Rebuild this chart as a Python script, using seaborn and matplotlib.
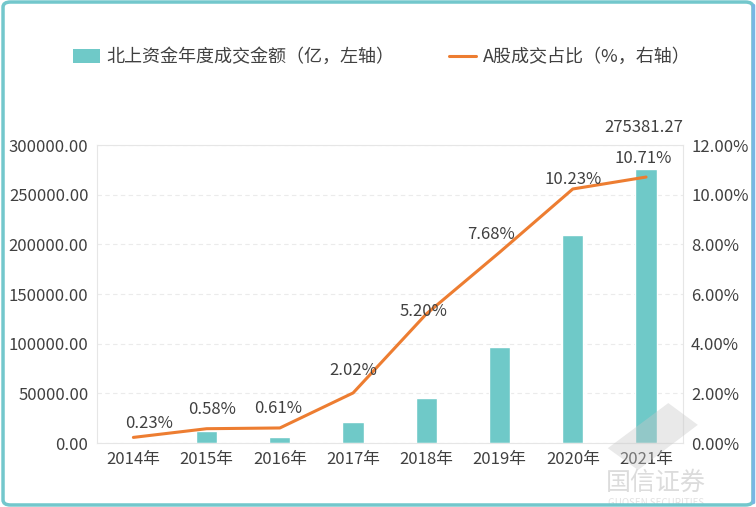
import numpy as np
import pandas as pd
import matplotlib.pyplot as plt
import seaborn as sns
from matplotlib.patches import Patch, FancyBboxPatch, Polygon
from matplotlib.lines import Line2D
from matplotlib.ticker import FuncFormatter

# data
years = ['2014年', '2015年', '2016年', '2017年', '2018年', '2019年', '2020年', '2021年']
turnover = [1500, 12500, 6500, 21500, 45500, 96500, 209500, 275381.27]
share_pct = [0.23, 0.58, 0.61, 2.02, 5.20, 7.68, 10.23, 10.71]

bar_label = '北上资金年度成交金额（亿，左轴）'
line_label = 'A股成交占比（%，右轴）'

df = pd.DataFrame({'year': years, 'turnover': turnover, 'share': share_pct})

sns.set_style('white')
plt.rcParams['font.family'] = ['Noto Sans CJK SC', 'DejaVu Sans']

teal = '#6fc9c8'
orange = '#ed7d31'
txt = '#404040'

fig = plt.figure(figsize=(7.56, 5.07), dpi=100)
ax = fig.add_axes([0.128, 0.126, 0.775, 0.588])

sns.barplot(data=df, x='year', y='turnover', color=teal, width=0.29,
            saturation=1, ax=ax, zorder=2)
ax.set_ylim(0, 300000)
ax.set_yticks(np.arange(0, 300001, 50000))
ax.yaxis.set_major_formatter(FuncFormatter(lambda v, p: f'{v:.2f}'))
ax.grid(axis='y', color='#ebebeb', linestyle=(0, (4, 3)), linewidth=0.8, zorder=0)
ax.set_xlabel('')
ax.set_ylabel('')
for s in ax.spines.values():
    s.set_color('#e6e6e6')
    s.set_linewidth(0.8)
ax.tick_params(axis='both', length=0, labelsize=12, colors=txt, pad=6)

ax2 = ax.twinx()
sns.lineplot(x=np.arange(len(years)), y=df['share'], color=orange,
             linewidth=2.2, ax=ax2, zorder=3)
ax2.set_ylim(0, 12)
ax2.set_yticks(np.arange(0, 12.01, 2))
ax2.yaxis.set_major_formatter(FuncFormatter(lambda v, p: f'{v:.2f}%'))
ax2.set_ylabel('')
ax2.tick_params(axis='y', length=0, labelsize=12, colors=txt, pad=6)
for s in ax2.spines.values():
    s.set_visible(False)
ax.set_xlim(-0.5, len(years) - 0.5)

# line value labels (vertical offsets in points, horizontal tweaks)
dy = [10, 14, 14, 16, 2, 13, 7, 13]
dx = [11, 4, -1, 0, -2, -6, 0, -2]
for i, v in enumerate(share_pct):
    ax2.annotate(f'{v:.2f}%', (i, v), xytext=(dx[i], dy[i]), textcoords='offset points',
                 ha='center', va='center', fontsize=12, color=txt)

# value label for last bar
ax.annotate(f'{turnover[-1]:.2f}', (len(years) - 1, turnover[-1]), xytext=(-2, 30),
            textcoords='offset points', ha='center', va='center', fontsize=12, color=txt)

handles = [Patch(facecolor=teal, edgecolor='none'),
           Line2D([0], [0], color=orange, linewidth=2.2)]
fig.legend(handles, [bar_label, line_label], loc='center', bbox_to_anchor=(0.505, 0.887),
           ncol=2, frameon=False, fontsize=13, labelcolor=txt,
           handlelength=1.5, handleheight=0.8, handletextpad=0.4, columnspacing=3.0)

# watermark
fig.patches.append(Polygon([(0.804, 0.116), (0.884, 0.205), (0.923, 0.162), (0.844, 0.073)],
                           closed=True, transform=fig.transFigure, facecolor='#c8c8c8',
                           edgecolor='none', alpha=0.4, zorder=5))
fig.text(0.868, 0.047, '国信证券', fontsize=18, color='#dcdcdc', ha='center', va='center',
         zorder=0)
fig.text(0.868, 0.008, 'GUOSEN SECURITIES', fontsize=7, color='#e2e2e2', ha='center',
         va='center', zorder=0)

# rounded frame around the figure
fig.patches.append(FancyBboxPatch((0.004, 0.004), 0.992, 0.992, transform=fig.transFigure,
                                  boxstyle='round,pad=0,rounding_size=0.01',
                                  fill=False, edgecolor='#73c7cc', linewidth=2.5))
fig.add_artist(Line2D([0.996, 0.996], [0.01, 0.99], transform=fig.transFigure,
                      color='#79b6e3', linewidth=2.5))

plt.savefig('out.png', dpi=100)
